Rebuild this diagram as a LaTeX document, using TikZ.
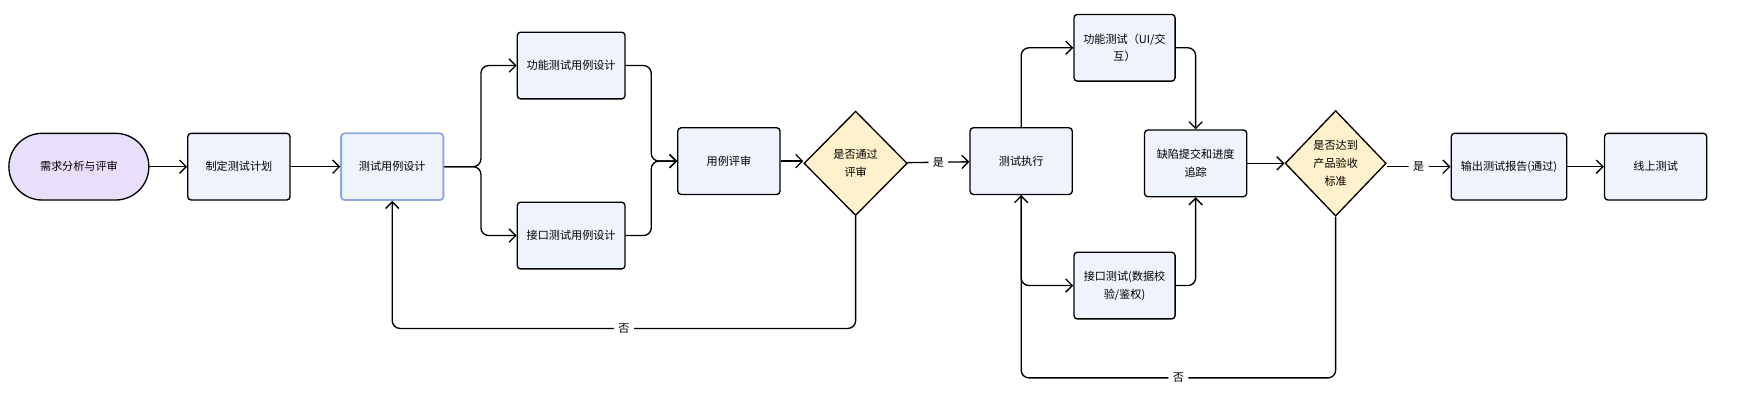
\documentclass[tikz,border=0pt]{standalone}
\usepackage{fontspec}
\setmainfont{Noto Sans CJK SC}
\usetikzlibrary{arrows.meta,shapes.geometric,positioning}
\definecolor{boxfill}{HTML}{EEF3FC}
\definecolor{startfill}{HTML}{E8E0FA}
\definecolor{decfill}{HTML}{FFF1CB}
\definecolor{selborder}{HTML}{8FA8DA}
\tikzset{
  box/.style={draw, line width=1.2pt, rounded corners=3pt, fill=boxfill,
    minimum width=92pt, minimum height=60pt, align=center,
    font=\fontsize{10}{16}\selectfont, inner sep=2pt},
  dec/.style={draw, line width=1.2pt, diamond, fill=decfill, aspect=1,
    minimum width=93pt, minimum height=94pt, inner sep=0pt, align=center,
    font=\fontsize{10}{16}\selectfont},
  flow/.style={-{Straight Barb[length=6pt,width=12pt]}, line width=1.2pt,
    rounded corners=7pt},
  lab/.style={fill=white, font=\fontsize{10}{12}\selectfont, inner sep=4pt}
}
\begin{document}
\begin{tikzpicture}[x=1pt,y=-1pt]
\useasboundingbox (0,0) rectangle (1565,363);
\node (start) at (71,150) [draw, line width=1.2pt, rounded corners=30pt, fill=startfill,
  minimum width=126pt, minimum height=60pt, font=\fontsize{10}{16}\selectfont] {需求分析与评审};
\node (plan) at (215,150) [box] {制定测试计划};
\node (design) at (353,150) [box, draw=selborder, line width=1.6pt] {测试用例设计};
\node (func) at (514,59) [box, minimum width=97pt] {功能测试用例设计};
\node (api) at (514,212) [box, minimum width=97pt] {接口测试用例设计};
\node (review) at (656,145) [box] {用例评审};
\node (dec1) at (770,147) [dec] {是否通过\\评审};
\node (exec) at (919,145) [box] {测试执行};
\node (ftest) at (1012,43) [box, minimum width=91pt] {功能测试（UI/交\\互）};
\node (itest) at (1012,257) [box, minimum width=91pt] {接口测试(数据校\\验/鉴权)};
\node (defect) at (1076,147) [box] {缺陷提交和进度\\追踪};
\node (dec2) at (1202,147) [dec, minimum width=91pt, minimum height=95pt] {是否达到\\产品验收\\标准};
\node (report) at (1358,150) [box, minimum width=104pt] {输出测试报告(通过)};
\node (online) at (1490,150) [box] {线上测试};

\draw[flow] (start) -- (plan);
\draw[flow] (plan) -- (design);
\draw[flow] (design.east) -- ++(33,0) |- (func.west);
\draw[flow] (design.east) -- ++(33,0) |- (api.west);
\draw[flow] (func.east) -- ++(23,0) |- (review.west);
\draw[flow] (api.east) -- ++(23,0) |- (review.west);
\draw[flow] (review) -- (dec1.west |- review);
\draw[flow] (dec1) -- node[lab] {是} (exec);
\draw[flow] (dec1.south) -- ++(0,101) -| node[lab, pos=0.25] {否} (design.south);
\draw[flow] (exec.north) |- (ftest.west);
\draw[flow] (exec.south) |- (itest.west);
\draw[flow] (ftest.east) -| (defect.north);
\draw[flow] (itest.east) -| (defect.south);
\draw[flow] (defect) -- (dec2);
\draw[flow] (dec2.south) -- ++(0,145) -| node[lab, pos=0.25] {否} (exec.south);
\draw[flow] (dec2.east |- report) -- node[lab] {是} (report);
\draw[flow] (report) -- (online);
\end{tikzpicture}
\end{document}
